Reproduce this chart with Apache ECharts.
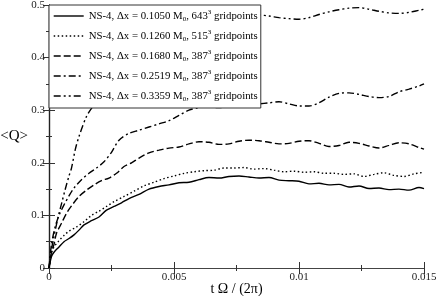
<!DOCTYPE html>
<html><head><meta charset="utf-8">
<script src="https://cdn.jsdelivr.net/npm/echarts@6/dist/echarts.min.js"></script>
<style>html,body{margin:0;padding:0;background:#fff}#c{width:436px;height:296px}</style>
</head><body><div id="c"></div>
<script>
var xTicks = [0, 0.005, 0.01, 0.015];
var yTicks = [0, 0.1, 0.2, 0.3, 0.4, 0.5];
var seriesNames = [
  "NS-4, Δx = 0.1050 M{sub|0}, 643{sup|3} gridpoints",
  "NS-4, Δx = 0.1260 M{sub|0}, 515{sup|3} gridpoints",
  "NS-4, Δx = 0.1680 M{sub|0}, 387{sup|3} gridpoints",
  "NS-4, Δx = 0.2519 M{sub|0}, 387{sup|3} gridpoints",
  "NS-4, Δx = 0.3359 M{sub|0}, 387{sup|3} gridpoints"
];
var t1 = [0,0.0001,0.0002,0.0004,0.0006,0.0008,0.001,0.0012,0.0014,0.0017,0.002,0.0023,0.0026,0.0029,0.0032,0.0036,0.004,0.0044,0.0048,0.0052,0.0056,0.006,0.0064,0.0068,0.0072,0.0076,0.008,0.0084,0.0088,0.0092,0.0096,0.01,0.0104,0.0108,0.0112,0.0116,0.012,0.0124,0.0128,0.0132,0.0136,0.014,0.0144,0.0148,0.015];
var q1 = [0,0.022,0.03,0.04,0.05,0.056,0.063,0.072,0.082,0.09,0.097,0.11,0.117,0.124,0.132,0.14,0.15,0.155,0.158,0.162,0.163,0.168,0.172,0.171,0.174,0.175,0.173,0.171,0.172,0.167,0.166,0.165,0.16,0.161,0.158,0.159,0.154,0.156,0.151,0.152,0.149,0.15,0.148,0.153,0.151];
var t2 = [0,0.0001,0.0002,0.0004,0.0006,0.0008,0.0011,0.0014,0.0017,0.002,0.0023,0.0026,0.003,0.0034,0.0038,0.0042,0.0046,0.005,0.0054,0.0058,0.0062,0.0066,0.007,0.0074,0.0078,0.0082,0.0086,0.009,0.0094,0.0098,0.0102,0.0106,0.011,0.0114,0.0118,0.0122,0.0126,0.013,0.0134,0.0138,0.0142,0.0146,0.015];
var q2 = [0,0.028,0.04,0.052,0.062,0.07,0.078,0.088,0.1,0.108,0.117,0.126,0.136,0.146,0.156,0.163,0.17,0.175,0.18,0.183,0.185,0.186,0.19,0.19,0.191,0.188,0.189,0.186,0.183,0.184,0.182,0.183,0.18,0.18,0.178,0.179,0.174,0.178,0.181,0.176,0.174,0.179,0.182];
var t3 = [0,0.0001,0.0002,0.0003,0.0005,0.0007,0.0009,0.0012,0.0015,0.0018,0.0021,0.0024,0.0027,0.003,0.0033,0.0036,0.004,0.0044,0.0048,0.0052,0.0056,0.006,0.0064,0.0068,0.0072,0.0076,0.008,0.0084,0.0088,0.0092,0.0096,0.01,0.0104,0.0108,0.0112,0.0116,0.012,0.0124,0.0128,0.0132,0.0136,0.014,0.0144,0.0148,0.015];
var q3 = [0,0.03,0.045,0.066,0.085,0.104,0.118,0.136,0.148,0.158,0.166,0.171,0.18,0.193,0.2,0.209,0.219,0.224,0.228,0.23,0.236,0.24,0.239,0.235,0.236,0.241,0.243,0.242,0.239,0.236,0.237,0.241,0.242,0.237,0.231,0.233,0.239,0.237,0.232,0.228,0.233,0.238,0.236,0.229,0.226];
var t4 = [0,0.0001,0.00025,0.0004,0.0006,0.0008,0.001,0.0013,0.0016,0.0019,0.0022,0.0025,0.0028,0.0032,0.0036,0.004,0.0044,0.0048,0.0052,0.0056,0.006,0.0064,0.0068,0.0072,0.0076,0.008,0.0084,0.0088,0.0092,0.0096,0.01,0.0104,0.0108,0.0112,0.0116,0.012,0.0124,0.0128,0.0132,0.0136,0.014,0.0144,0.0148,0.015];
var q4 = [0,0.045,0.079,0.1,0.12,0.137,0.152,0.168,0.18,0.19,0.202,0.22,0.243,0.256,0.262,0.268,0.274,0.28,0.29,0.3,0.305,0.306,0.305,0.307,0.308,0.31,0.312,0.314,0.316,0.312,0.308,0.308,0.314,0.325,0.332,0.333,0.33,0.326,0.324,0.326,0.335,0.34,0.346,0.35];
var t5 = [0,0.0001,0.0002,0.00037,0.0005,0.00064,0.0008,0.0009,0.00105,0.0012,0.0015,0.0018,0.0022,0.0026,0.003,0.0035,0.004,0.0045,0.005,0.0055,0.006,0.0065,0.007,0.0075,0.008,0.0084,0.0088,0.0092,0.0096,0.01,0.0104,0.0108,0.0112,0.0116,0.012,0.0124,0.0128,0.0132,0.0136,0.014,0.0144,0.0148,0.015];
var q5 = [0,0.035,0.06,0.098,0.122,0.148,0.175,0.19,0.225,0.25,0.288,0.31,0.335,0.36,0.38,0.4,0.415,0.428,0.44,0.45,0.458,0.464,0.47,0.474,0.478,0.481,0.479,0.476,0.474,0.473,0.476,0.482,0.487,0.491,0.494,0.495,0.492,0.488,0.485,0.484,0.486,0.49,0.492];

function pairs(t, q){ return t.map(function(v,i){ return [v, q[i]]; }); }
var dashes = ['solid', [1.5, 2.5], [7, 3], [7, 3, 2, 3], [7, 3, 2, 3, 2, 3]];
var allT = [t1,t2,t3,t4,t5], allQ = [q1,q2,q3,q4,q5];
var FONT = '"Liberation Serif", "DejaVu Serif", serif';

var series = allT.map(function(t, i){
  return {
    name: seriesNames[i], type: 'line', xAxisIndex: 0, yAxisIndex: 0,
    data: pairs(t, allQ[i]), symbol: 'none', smooth: 0.3, z: 2,
    lineStyle: { color: '#000', width: 1.4, type: dashes[i] },
    itemStyle: { color: '#000' }
  };
});

var chart = echarts.init(document.getElementById('c'), null, {renderer: 'canvas'});
var axCommonX = {
  type: 'value', min: 0, max: 0.015, interval: 0.005,
  splitLine: { show: false },
  minorTick: { show: true, splitNumber: 2, length: 3, lineStyle: { color: '#333' } },
  axisTick: { inside: true, length: 6, lineStyle: { color: '#333' } }
};
var axCommonY = {
  type: 'value', min: 0, max: 0.5, interval: 0.1,
  splitLine: { show: false },
  minorTick: { show: true, splitNumber: 2, length: 3, lineStyle: { color: '#333' } },
  axisTick: { inside: true, length: 6, lineStyle: { color: '#333' } }
};
chart.setOption({
  animation: false,
  backgroundColor: '#fff',
  grid: { left: 49, right: 12, top: 5, bottom: 28, containLabel: false, outerBoundsMode: 'none' },
  xAxis: [
    Object.assign({}, axCommonX, {
      position: 'bottom',
      axisLine: { lineStyle: { color: '#777', width: 1.2 } },
      axisLabel: { color: '#222', fontFamily: FONT, fontSize: 11, margin: 4,
        formatter: function(v){ var k = xTicks.indexOf(v); return k >= 0 ? String(xTicks[k]) : ''; } },
      name: 't Ω / (2π)', nameLocation: 'middle', nameGap: 14, nameMoveOverlap: false,
      nameTextStyle: { color: '#000', fontFamily: FONT, fontSize: 14 }
    }),
    Object.assign({}, axCommonX, {
      position: 'top',
      axisLine: { lineStyle: { color: '#444', width: 1.2 } },
      axisLabel: { show: false }
    })
  ],
  yAxis: [
    Object.assign({}, axCommonY, {
      position: 'left',
      axisLine: { lineStyle: { color: '#111', width: 1.2 } },
      axisLabel: { color: '#222', fontFamily: FONT, fontSize: 11, margin: 4,
        formatter: function(v){ var k = yTicks.indexOf(+v.toFixed(3)); return k >= 0 ? String(yTicks[k]) : ''; } },
      name: '<Q>', nameLocation: 'middle', nameGap: 21, nameRotate: 360, nameMoveOverlap: false,
      nameTextStyle: { color: '#000', fontFamily: FONT, fontSize: 15, align: 'right', verticalAlign: 'middle' }
    }),
    Object.assign({}, axCommonY, {
      position: 'right',
      axisLine: { lineStyle: { color: '#222', width: 1.2 } },
      axisLabel: { show: false }
    })
  ],
  legend: {
    show: true, orient: 'vertical', left: 49, top: 5,
    backgroundColor: '#fff', borderColor: '#333', borderWidth: 1,
    padding: [4, 3, 5, 4], itemGap: 6, itemWidth: 30, itemHeight: 14,
    z: 10,
    itemStyle: { opacity: 0 },
    lineStyle: { width: 1.4, color: '#000' },
    textStyle: {
      color: '#000', fontFamily: FONT, fontSize: 10.8, lineHeight: 14,
      rich: {
        sub: { fontSize: 7, fontFamily: FONT, color: '#000', verticalAlign: 'bottom', lineHeight: 8 },
        sup: { fontSize: 7, fontFamily: FONT, color: '#000', verticalAlign: 'top', lineHeight: 8 }
      }
    },
    data: seriesNames
  },
  series: series
});
</script></body></html>
